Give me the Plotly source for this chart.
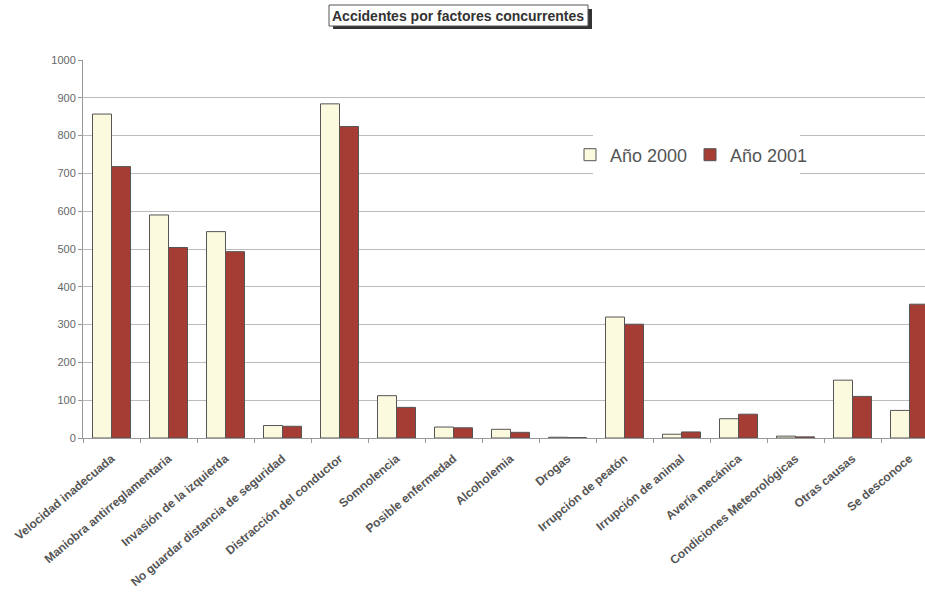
import plotly.graph_objects as go

categories = ["Velocidad inadecuada", "Maniobra antirreglamentaria", "Invasión de la izquierda",
              "No guardar distancia de seguridad", "Distracción del conductor", "Somnolencia",
              "Posible enfermedad", "Alcoholemia", "Drogas", "Irrupción de peatón",
              "Irrupción de animal", "Avería mecánica", "Condiciones Meteorológicas",
              "Otras causas", "Se desconoce"]
anio_2000 = [857, 590, 546, 33, 884, 112, 29, 23, 2, 320, 10, 51, 5, 153, 73]
anio_2001 = [718, 504, 493, 31, 824, 81, 27, 15, 1, 301, 16, 63, 3, 110, 354]
yticks = [0, 100, 200, 300, 400, 500, 600, 700, 800, 900, 1000]

W, H = 925, 603
L, R, T, B = 83, 925, 60, 438

fig = go.Figure()
fig.add_trace(go.Bar(x=categories, y=anio_2000, name="Año 2000",
                     marker=dict(color="#FBFADF", line=dict(color="#555555", width=1))))
fig.add_trace(go.Bar(x=categories, y=anio_2001, name="Año 2001",
                     marker=dict(color="#A63D35", line=dict(color="#555555", width=1))))

def px(x):
    return (x - L) / (R - L)

def py(y):
    return (B - y) / (B - T)

fig.update_layout(
    width=W, height=H,
    margin=dict(l=L, r=W - R, t=T, b=H - B, pad=0),
    paper_bgcolor="white", plot_bgcolor="white",
    barmode="group", bargap=1/3, bargroupgap=0,
    font=dict(family="Liberation Sans, Arial, sans-serif", color="#444444"),
    showlegend=True,
    legend=dict(orientation="h", x=px(570), y=py(155), xanchor="left", yanchor="middle",
                bgcolor="rgba(0,0,0,0)", font=dict(size=18, color="#555555"),
                itemwidth=30, entrywidth=75, tracegroupgap=0, traceorder="normal"),
    xaxis=dict(range=[-0.5, (R - L) / ((R - L + 13) / 15) - 0.5], tickangle=-40,
               tickfont=dict(size=12, color="#555555", family="Liberation Sans, Arial, sans-serif", weight="bold"),
               showline=True, linecolor="#999999", linewidth=1,
               ticks="outside", ticklen=4, tickcolor="#999999", tickson="boundaries",
               ticklabelstandoff=8, showgrid=False),
    yaxis=dict(range=[0, 1000], tickvals=yticks, ticktext=[str(v) for v in yticks],
               tickfont=dict(size=11, color="#666666"),
               showline=True, linecolor="#999999", linewidth=1,
               ticks="outside", ticklen=4, tickcolor="#999999",
               showgrid=True, gridcolor="#BBBBBB", gridwidth=1, zeroline=False),
)

# white legend panel hiding the gridlines behind the legend
fig.add_shape(type="rect", xref="paper", yref="paper",
              x0=px(593), x1=px(800), y0=py(192), y1=py(118),
              fillcolor="white", line=dict(width=0), layer="above")

# title box with shadow
fig.add_shape(type="rect", xref="paper", yref="paper",
              x0=px(333), x1=px(592), y0=py(29), y1=py(9),
              fillcolor="#333333", line=dict(width=0), layer="above")
fig.add_shape(type="rect", xref="paper", yref="paper",
              x0=px(329), x1=px(588), y0=py(26), y1=py(5),
              fillcolor="white", line=dict(color="#555555", width=1), layer="above")
fig.add_annotation(text="<b>Accidentes por factores concurrentes</b>", xref="paper", yref="paper",
                   x=px(458), y=py(16), xanchor="center", yanchor="middle", showarrow=False,
                   font=dict(size=14, color="#333333"))

fig.write_html("out.html")
